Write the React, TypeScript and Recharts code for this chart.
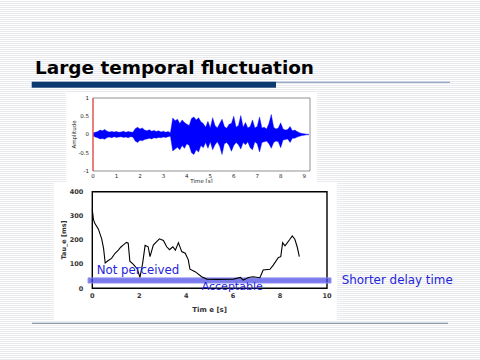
import React from "react";
import {
  ComposedChart,
  Area,
  Line,
  XAxis,
  YAxis,
  ReferenceLine,
  ReferenceArea,
  Label,
} from "recharts";

// ---- Waveform (top chart) ----
const waveTimes = [
  0.0, 0.1, 0.2, 0.3, 0.4, 0.5, 0.6, 0.7, 0.8, 0.9,
  1.0, 1.1, 1.2, 1.3, 1.4, 1.5, 1.6, 1.7, 1.8, 1.9,
  2.0, 2.1, 2.2, 2.3, 2.4, 2.5, 2.6, 2.7, 2.8, 2.9,
  3.0, 3.1, 3.2, 3.3, 3.4, 3.5, 3.6, 3.7, 3.8, 3.9,
  4.0, 4.1, 4.2, 4.3, 4.4, 4.5, 4.6, 4.7, 4.8, 4.9,
  5.0, 5.1, 5.2, 5.3, 5.4, 5.5, 5.6, 5.7, 5.8, 5.9,
  6.0, 6.1, 6.2, 6.3, 6.4, 6.5, 6.6, 6.7, 6.8, 6.9,
  7.0, 7.1, 7.2, 7.3, 7.4, 7.5, 7.6, 7.7, 7.8, 7.9,
  8.0, 8.1, 8.2, 8.3, 8.4, 8.5, 8.6, 8.7, 8.8, 8.9,
  9.0, 9.1, 9.2,
];
const waveUpper = [
  0.04, 0.06, 0.08, 0.12, 0.10, 0.14, 0.09, 0.07, 0.08, 0.07,
  0.08, 0.06, 0.07, 0.09, 0.06, 0.08, 0.07, 0.06, 0.16, 0.20,
  0.15, 0.18, 0.12, 0.10, 0.13, 0.09, 0.11, 0.08, 0.10, 0.07,
  0.09, 0.06, 0.08, 0.05, 0.45, 0.38, 0.42, 0.30, 0.40, 0.33,
  0.28, 0.25, 0.44, 0.48, 0.40, 0.46, 0.35, 0.30, 0.20, 0.36,
  0.18, 0.46, 0.25, 0.18, 0.30, 0.42, 0.22, 0.17, 0.28, 0.30,
  0.50, 0.20, 0.25, 0.52, 0.20, 0.33, 0.18, 0.22, 0.40, 0.18,
  0.22, 0.48, 0.18, 0.20, 0.15, 0.30, 0.55, 0.20, 0.15, 0.18,
  0.32, 0.15, 0.12, 0.14, 0.22, 0.10, 0.12, 0.08, 0.05, 0.03,
  0.02, 0.01, 0.01,
];
const waveLower = [
  -0.04, -0.07, -0.09, -0.12, -0.11, -0.13, -0.08, -0.07, -0.09, -0.06,
  -0.08, -0.07, -0.06, -0.08, -0.07, -0.09, -0.06, -0.07, -0.18, -0.22,
  -0.16, -0.17, -0.14, -0.12, -0.10, -0.12, -0.09, -0.10, -0.08, -0.09,
  -0.07, -0.08, -0.06, -0.05, -0.45, -0.40, -0.35, -0.42, -0.30, -0.38,
  -0.25, -0.30, -0.50, -0.55, -0.42, -0.48, -0.30, -0.36, -0.22, -0.38,
  -0.20, -0.42, -0.28, -0.20, -0.32, -0.55, -0.25, -0.22, -0.30, -0.46,
  -0.30, -0.22, -0.28, -0.40, -0.22, -0.28, -0.20, -0.36, -0.42, -0.20,
  -0.25, -0.48, -0.22, -0.20, -0.18, -0.25, -0.38, -0.22, -0.18, -0.20,
  -0.36, -0.15, -0.14, -0.12, -0.22, -0.10, -0.10, -0.07, -0.05, -0.03,
  -0.02, -0.01, -0.01,
];
const waveXTicks = [0, 1, 2, 3, 4, 5, 6, 7, 8, 9];
const waveYTicks = [-1, -0.5, 0, 0.5, 1];

// ---- Tau_e (bottom chart) ----
const tauTimes = [
  0, 0.05, 0.1, 0.26, 0.4, 0.48, 0.55, 0.68, 0.82, 0.97,
  1.11, 1.21, 1.3, 1.39, 1.46, 1.53, 1.6, 1.74, 1.92, 2.03,
  2.14, 2.25, 2.38, 2.46, 2.6, 2.71, 2.86, 3.03, 3.17, 3.29,
  3.43, 3.54, 3.67, 3.81, 3.96, 4.09, 4.16, 4.38, 4.66, 4.88,
  5.31, 6.02, 6.31, 6.43, 6.65, 6.86, 7.14, 7.28, 7.57, 7.71,
  7.93, 8.03, 8.11, 8.21, 8.42, 8.52, 8.63, 8.73, 8.82,
];
const tauValues = [
  325, 285, 270, 245, 205, 165, 105, 115, 124, 145,
  158, 170, 178, 185, 190, 187, 112, 100, 80, 45,
  100, 178, 172, 131, 179, 190, 205, 198, 172, 160,
  172, 158, 189, 152, 145, 118, 79, 69, 48, 38,
  37, 38, 45, 34, 45, 48, 44, 76, 79, 96,
  128, 131, 189, 176, 203, 217, 203, 172, 131,
];
const tauXTicks = [0, 2, 4, 6, 8, 10];
const tauYTicks = [0, 100, 200, 300, 400];
const bandTau = [22, 43];
const bandTime = [-0.18, 10.17];

const waveData = waveTimes.map((t, i) => ({ t, range: [waveLower[i], waveUpper[i]] }));
const tauData = tauTimes.map((t, i) => ({ t, tau: tauValues[i] }));

const BLUE_TEXT = "#2424dc";
const SMALL_FONT = "'DejaVu Sans', sans-serif";

export default function App() {
  return (
    <div
      style={{
        position: "absolute",
        left: 0,
        top: 0,
        width: 480,
        height: 360,
        overflow: "hidden",
        background:
          "repeating-linear-gradient(to bottom, #ffffff 0px, #ffffff 1px, #e9eaee 1px, #e9eaee 2px)",
        fontFamily: SMALL_FONT,
      }}
    >
      {/* Waveform panel */}
      <div style={{ position: "absolute", left: 66, top: 93, width: 251, height: 90, background: "#fff" }}>
        <ComposedChart width={251} height={90} data={waveData} margin={{ top: 5, right: 7, bottom: 0, left: 0 }}>
          <XAxis
            dataKey="t"
            type="number"
            domain={[0, 9.25]}
            ticks={waveXTicks}
            interval={0}
            height={12}
            tickSize={1}
            tickLine={false}
            axisLine={false}
            tick={{ fontSize: 5.5, fill: "#222", fontFamily: SMALL_FONT }}
          >
            <Label
              value="Time [s]"
              position="insideBottom"
              offset={0}
              fill="#222"
              style={{ fontSize: 5.5, fill: "#222", fontFamily: SMALL_FONT }}
            />
          </XAxis>
          <YAxis
            type="number"
            domain={[-1, 1]}
            ticks={waveYTicks}
            width={27}
            tickSize={2}
            tickLine={false}
            axisLine={false}
            tick={{ fontSize: 5.5, fill: "#222", fontFamily: SMALL_FONT }}
          >
            <Label
              value="Amplitude"
              angle={-90}
              position="insideLeft"
              offset={8}
              fill="#222"
              style={{ fontSize: 5.5, fill: "#222", textAnchor: "middle", fontFamily: SMALL_FONT }}
            />
          </YAxis>
          <Area
            type="linear"
            dataKey="range"
            stroke="#0000ff"
            strokeWidth={0.4}
            fill="#0000ff"
            fillOpacity={1}
            dot={false}
            activeDot={false}
            isAnimationActive={false}
          />
          <ReferenceArea x1={0} x2={9.25} y1={-1} y2={1} fill="none" stroke="#777" strokeWidth={0.8} ifOverflow="visible" />
          <ReferenceLine x={0} stroke="#ff5050" strokeWidth={1.2} />
        </ComposedChart>
      </div>

      {/* Tau_e panel */}
      <div style={{ position: "absolute", left: 54, top: 183, width: 283, height: 137, background: "#fff" }}>
        <ComposedChart width={283} height={137} data={tauData} margin={{ top: 8.7, right: 10, bottom: 0, left: 0 }}>
          <XAxis
            dataKey="t"
            type="number"
            domain={[0, 10]}
            ticks={tauXTicks}
            interval={0}
            height={31.7}
            tickSize={2}
            tickMargin={3.5}
            tickLine={false}
            axisLine={false}
            tick={{ fontSize: 6.5, fill: "#333", fontWeight: "bold", fontFamily: SMALL_FONT }}
          >
            <Label
              value="Tim e [s]"
              position="insideBottom"
              offset={8}
              fill="#333"
              style={{ fontSize: 7, fill: "#333", fontWeight: "bold", fontFamily: SMALL_FONT }}
            />
          </XAxis>
          <YAxis
            type="number"
            domain={[0, 400]}
            ticks={tauYTicks}
            width={38.3}
            tickSize={3}
            tickMargin={6}
            tickLine={false}
            axisLine={false}
            tick={{ fontSize: 6.5, fill: "#333", fontWeight: "bold", fontFamily: SMALL_FONT }}
          >
            <Label
              value="Tau_e [ms]"
              angle={-90}
              position="insideLeft"
              offset={10}
              fill="#333"
              style={{ fontSize: 6.5, fill: "#333", fontWeight: "bold", textAnchor: "middle", fontFamily: SMALL_FONT }}
            />
          </YAxis>
          <ReferenceArea x1={0} x2={10} y1={0} y2={400} fill="none" stroke="#000" strokeWidth={1.4} ifOverflow="visible" />
          <Line
            type="linear"
            dataKey="tau"
            stroke="#000"
            strokeWidth={1.1}
            dot={false}
            activeDot={false}
            isAnimationActive={false}
          />
          <ReferenceArea
            x1={bandTime[0]}
            x2={bandTime[1]}
            y1={bandTau[0]}
            y2={bandTau[1]}
            fill="#4646e6"
            fillOpacity={0.72}
            stroke="#8c8cf2"
            strokeWidth={1}
            ifOverflow="visible"
          />
        </ComposedChart>
      </div>

      {/* Slide decoration and annotations */}
      <svg width={480} height={360} style={{ position: "absolute", left: 0, top: 0, pointerEvents: "none" }}>
        <text
          x={35}
          y={74.3}
          fontFamily={SMALL_FONT}
          fontWeight="bold"
          fontSize={18.4}
          fill="#000"
          textLength={279}
          lengthAdjust="spacingAndGlyphs"
        >
          Large temporal fluctuation
        </text>
        <rect x={276} y={81.7} width={174} height={1.2} fill="#8da4c4" />
        <rect x={31.7} y={81.7} width={244.3} height={6} fill="#0c3a70" />
        <rect x={32} y={322.7} width={416} height={1.3} fill="#8898aa" />
        <text x={96.7} y={274.3} fontFamily={SMALL_FONT} fontSize={11.8} fill={BLUE_TEXT}>
          Not perceived
        </text>
        <text x={201.7} y={290.3} fontFamily={SMALL_FONT} fontSize={11} fill={BLUE_TEXT}>
          Acceptable
        </text>
        <text x={341.7} y={284} fontFamily={SMALL_FONT} fontSize={11.9} fill={BLUE_TEXT}>
          Shorter delay time
        </text>
      </svg>
    </div>
  );
}
